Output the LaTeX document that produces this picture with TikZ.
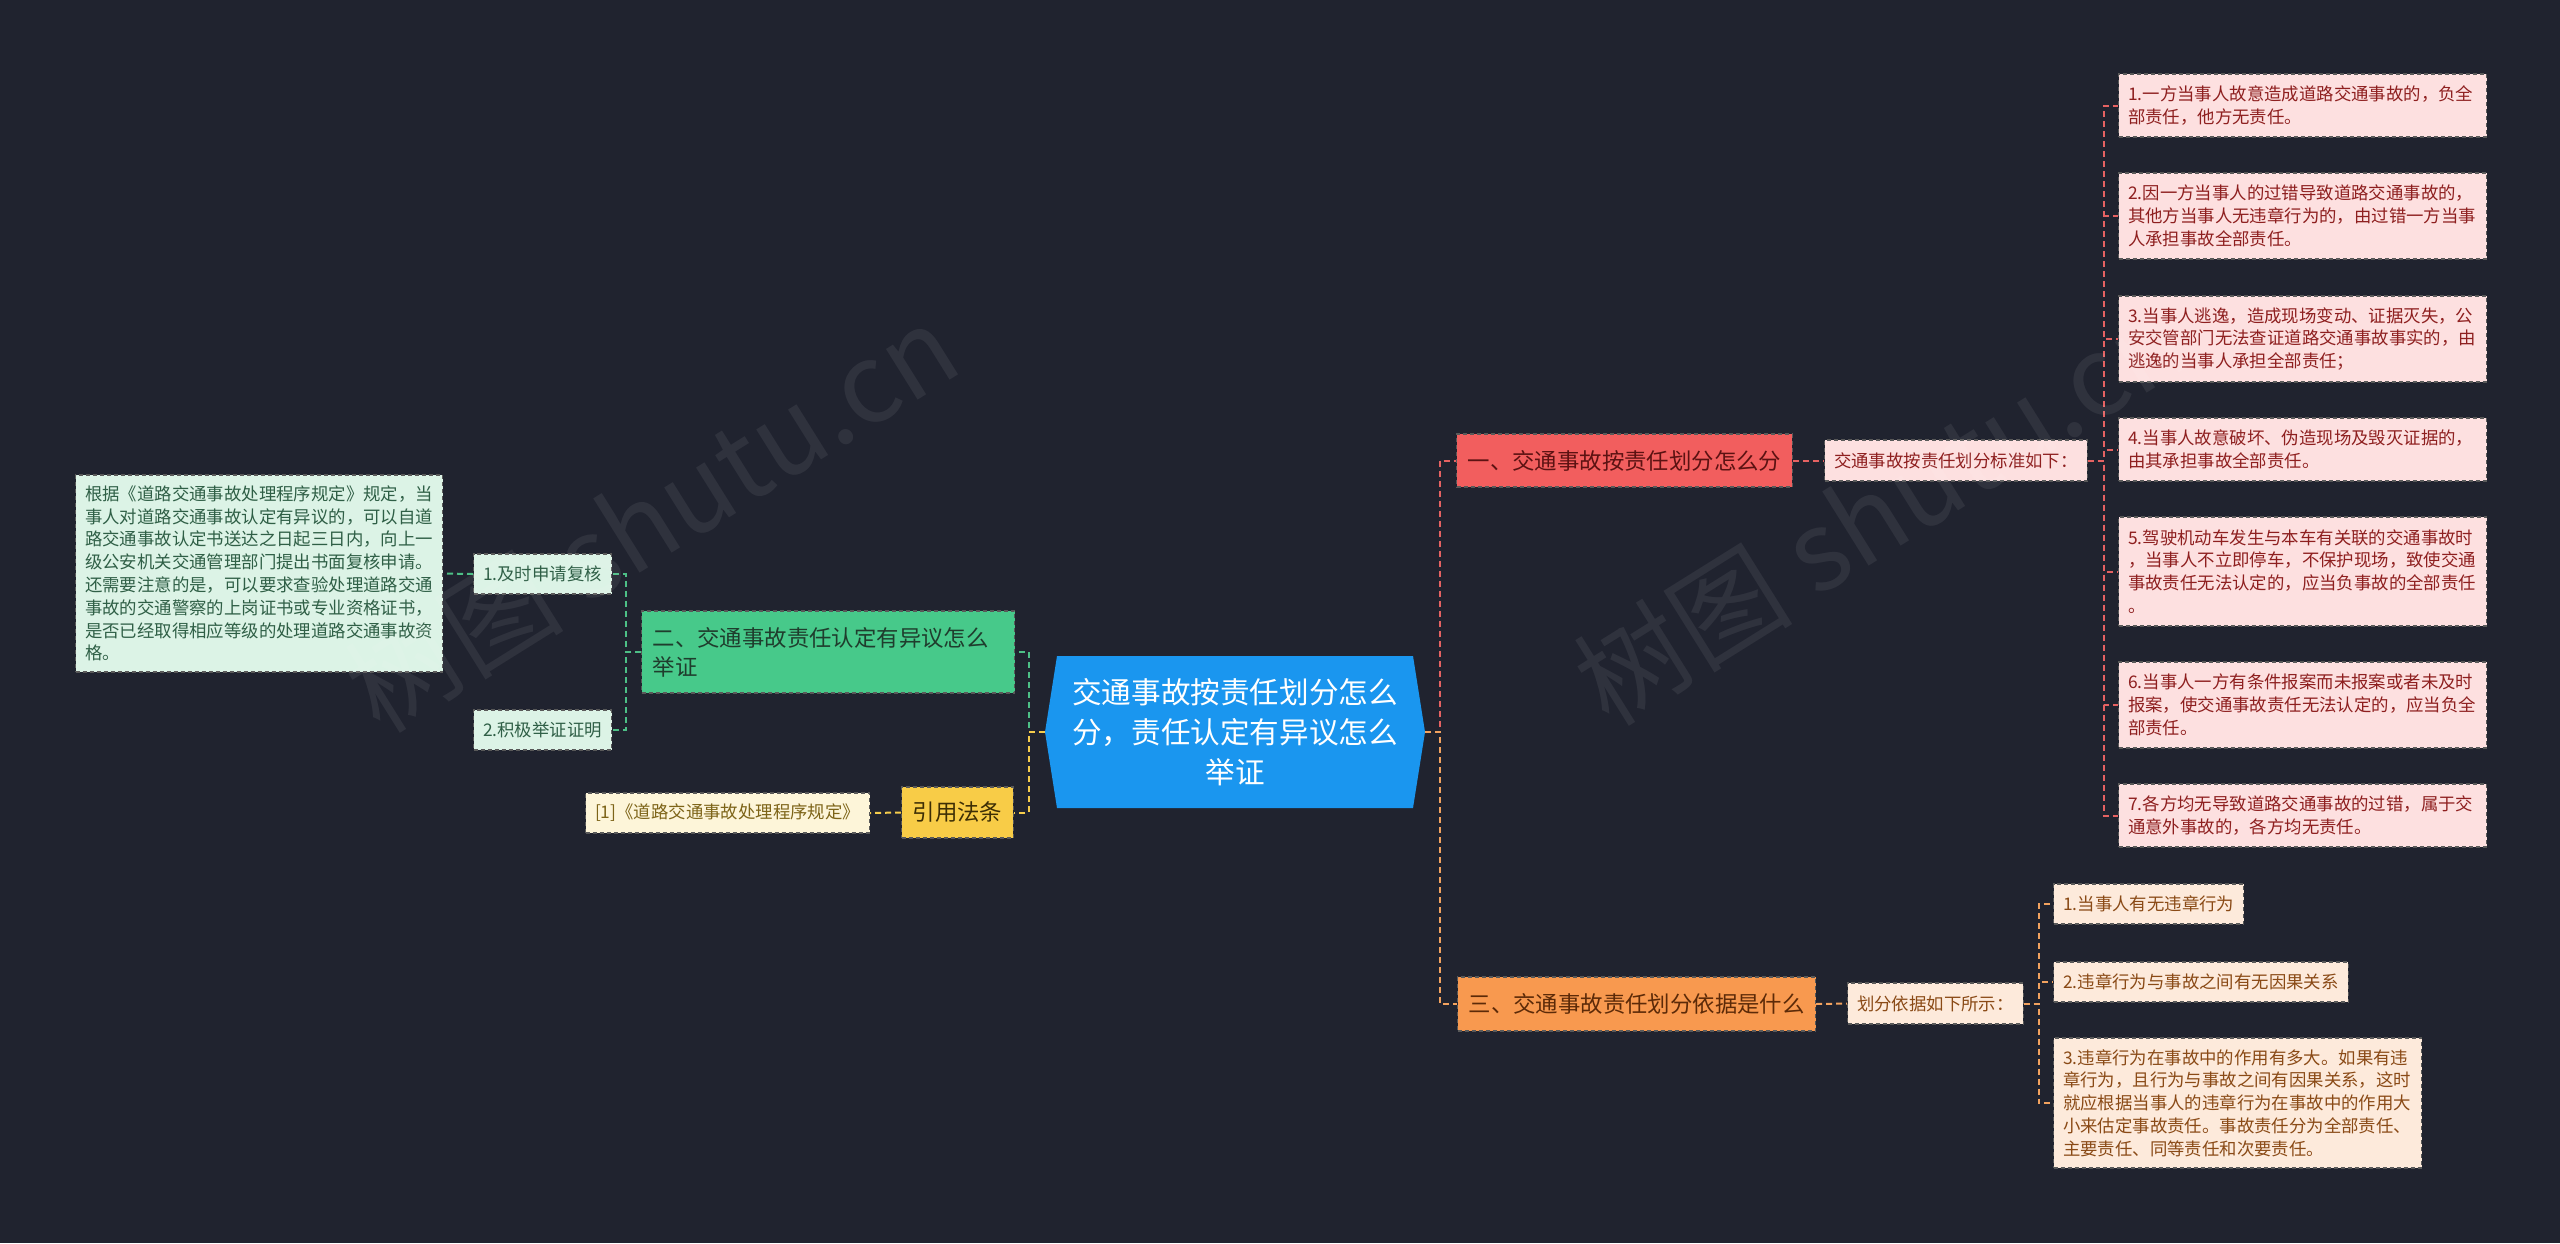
\documentclass[tikz,border=0pt]{standalone}
\usepackage{fontspec}
\setmainfont{Noto Sans CJK SC}
\definecolor{bgc}{HTML}{20232F}
\definecolor{cfill}{HTML}{1A96EF}
\definecolor{gmain}{HTML}{47C98A}
\definecolor{gleaf}{HTML}{DCF3E6}
\definecolor{gtxt}{HTML}{1F3D2D}
\definecolor{gltxt}{HTML}{2F5F46}
\definecolor{gline}{HTML}{4DBF86}
\definecolor{rmain}{HTML}{F25E5E}
\definecolor{rleaf}{HTML}{FDE0E0}
\definecolor{rtxt}{HTML}{5C1212}
\definecolor{rltxt}{HTML}{8E1F1F}
\definecolor{rline}{HTML}{E56262}
\definecolor{omain}{HTML}{F8994F}
\definecolor{oleaf}{HTML}{FDEADB}
\definecolor{otxt}{HTML}{5C2A08}
\definecolor{oltxt}{HTML}{8A4A16}
\definecolor{oline}{HTML}{F2A25F}
\definecolor{ymain}{HTML}{F8CC47}
\definecolor{yleaf}{HTML}{FDF5D9}
\definecolor{ytxt}{HTML}{3D2E05}
\definecolor{yltxt}{HTML}{7D6418}
\definecolor{yline}{HTML}{F5CC4C}
\tikzset{
  boxbase/.style={rectangle, draw=black!65, line width=1.2pt, dash pattern=on 4pt off 3pt, anchor=west},
  leaf/.style={boxbase, font=\fontsize{17.4}{22.8}\selectfont, align=left, inner xsep=9.5pt, inner ysep=0pt},
  mainbox/.style={boxbase, font=\fontsize{22.4}{29}\selectfont, align=left, inner xsep=11pt, inner ysep=0pt},
  gleafbox/.style={leaf, fill=gleaf, text=gltxt},
  rleafbox/.style={leaf, fill=rleaf, text=rltxt},
  oleafbox/.style={leaf, fill=oleaf, text=oltxt},
  yleafbox/.style={leaf, fill=yleaf, text=yltxt},
  conn/.style={line width=2pt, dash pattern=on 6pt off 4pt},
  wmark/.style={text=white, opacity=0.07, font=\fontsize{110}{110}\selectfont, rotate=32}
}
\begin{document}
\begin{tikzpicture}[x=1pt,y=-1pt]
\fill[bgc] (0,0) rectangle (2560,1243);
\useasboundingbox (0,0) rectangle (2560,1243);

% center hexagon
\fill[cfill] (1057,656) -- (1413,656) -- (1425,732) -- (1413,808) -- (1057,808) -- (1045,732) -- cycle;
\node[rectangle, minimum width=380pt, minimum height=152pt, inner sep=0pt, text width=370pt, align=center,
  font=\fontsize{29.6}{40}\selectfont, text=white] (C) at (1235,732)
  {交通事故按责任划分怎么\\分，责任认定有异议怎么\\举证};

% left side
\node[mainbox, fill=gmain, text=gtxt, text width=351pt, minimum height=82pt] (G) at (641,652)
  {二、交通事故责任认定有异议怎么\\举证};
\node[gleafbox, minimum height=40pt] (G1) at (473,574) {1.及时申请复核};
\node[gleafbox, minimum height=40pt] (G2) at (473,730) {2.积极举证证明};
\node[gleafbox, text width=348pt, minimum height=197pt] (GL) at (75,573.5)
  {根据《道路交通事故处理程序规定》规定，当\\事人对道路交通事故认定有异议的，可以自道\\路交通事故认定书送达之日起三日内，向上一\\级公安机关交通管理部门提出书面复核申请。\\还需要注意的是，可以要求查验处理道路交通\\事故的交通警察的上岗证书或专业资格证书，\\是否已经取得相应等级的处理道路交通事故资\\格。};
\node[mainbox, fill=ymain, text=ytxt, minimum height=51pt] (Y) at (901,812.5) {引用法条};
\node[yleafbox, minimum height=40pt] (Y1) at (585,813) {[1]《道路交通事故处理程序规定》};

% right side
\node[mainbox, fill=rmain, text=rtxt, minimum height=53pt] (R) at (1456,460.5) {一、交通事故按责任划分怎么分};
\node[rleafbox, minimum height=41pt] (R0) at (1824,460.5) {交通事故按责任划分标准如下：};
\node[rleafbox, text width=349pt, minimum height=63pt] (R1) at (2118,105.5)
  {1.一方当事人故意造成道路交通事故的，负全\\部责任，他方无责任。};
\node[rleafbox, text width=349pt, minimum height=86pt] (R2) at (2118,216)
  {2.因一方当事人的过错导致道路交通事故的，\\其他方当事人无违章行为的，由过错一方当事\\人承担事故全部责任。};
\node[rleafbox, text width=349pt, minimum height=86pt] (R3) at (2118,339)
  {3.当事人逃逸，造成现场变动、证据灭失，公\\安交管部门无法查证道路交通事故事实的，由\\逃逸的当事人承担全部责任；};
\node[rleafbox, text width=349pt, minimum height=63pt] (R4) at (2118,449.5)
  {4.当事人故意破坏、伪造现场及毁灭证据的，\\由其承担事故全部责任。};
\node[rleafbox, text width=349pt, minimum height=109pt] (R5) at (2118,571.5)
  {5.驾驶机动车发生与本车有关联的交通事故时\\，当事人不立即停车，不保护现场，致使交通\\事故责任无法认定的，应当负事故的全部责任\\。};
\node[rleafbox, text width=349pt, minimum height=86pt] (R6) at (2118,705)
  {6.当事人一方有条件报案而未报案或者未及时\\报案，使交通事故责任无法认定的，应当负全\\部责任。};
\node[rleafbox, text width=349pt, minimum height=63pt] (R7) at (2118,815.5)
  {7.各方均无导致道路交通事故的过错，属于交\\通意外事故的，各方均无责任。};

\node[mainbox, fill=omain, text=otxt, minimum height=54pt] (O) at (1457,1004) {三、交通事故责任划分依据是什么};
\node[oleafbox, minimum height=41pt] (O0) at (1847,1003.5) {划分依据如下所示：};
\node[oleafbox, minimum height=40pt] (O1) at (2053,904) {1.当事人有无违章行为};
\node[oleafbox, minimum height=40pt] (O2) at (2053,982) {2.违章行为与事故之间有无因果关系};
\node[oleafbox, text width=349pt, minimum height=130pt] (O3) at (2053,1103)
  {3.违章行为在事故中的作用有多大。如果有违\\章行为，且行为与事故之间有因果关系，这时\\就应根据当事人的违章行为在事故中的作用大\\小来估定事故责任。事故责任分为全部责任、\\主要责任、同等责任和次要责任。};

% connectors
\draw[conn, rline] (C.east) -- ++(15,0) |- (R.west);
\draw[conn, oline] (C.east) -- ++(15,0) |- (O.west);
\draw[conn, gline] (C.west) -- ++(-16,0) |- (G.east);
\draw[conn, yline] (C.west) -- ++(-16,0) |- (Y.east);
\draw[conn, gline] (G.west) -- ++(-15,0) |- (G1.east);
\draw[conn, gline] (G.west) -- ++(-15,0) |- (G2.east);
\draw[conn, gline] (G1.west) -- (GL.east);
\draw[conn, yline] (Y.west) -- (Y1.east);
\draw[conn, rline] (R.east) -- (R0.west);
\foreach \n in {R1,R2,R3,R4,R5,R6,R7}
  \draw[conn, rline] (R0.east) -- ++(16,0) |- (\n.west);
\draw[conn, oline] (O.east) -- (O0.west);
\foreach \n in {O1,O2,O3}
  \draw[conn, oline] (O0.east) -- ++(15,0) |- (\n.west);

% watermarks
\node[wmark] (W1) at (651,517) {树图 shutu.cn};
\node[wmark] (W2) at (1880,510) {树图 shutu.cn};
\end{tikzpicture}
\end{document}
